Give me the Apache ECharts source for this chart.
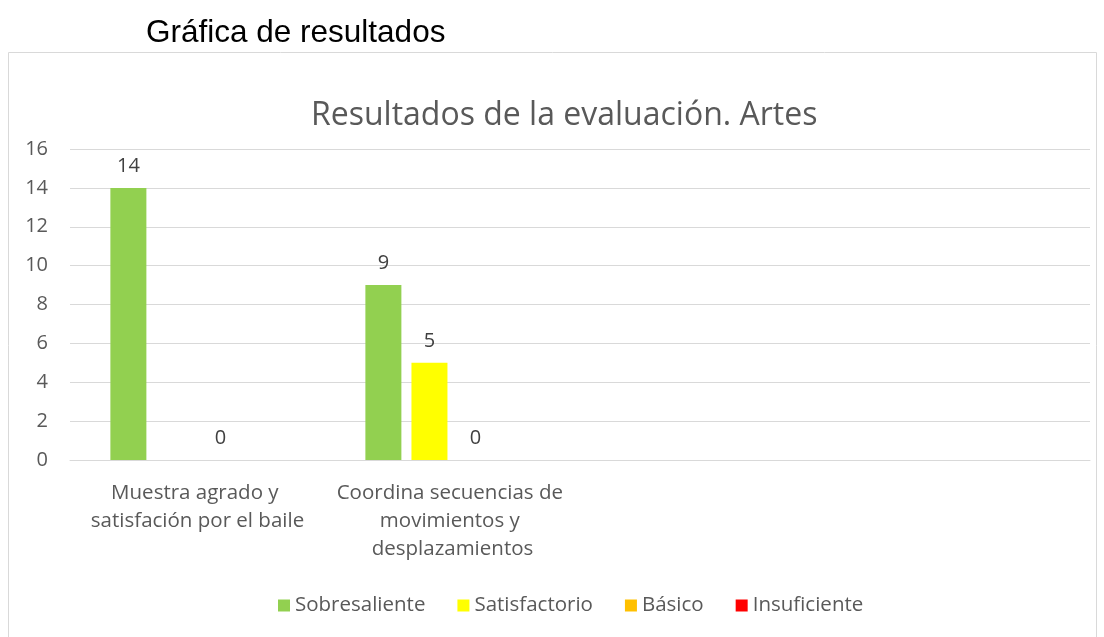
<!DOCTYPE html>
<html><head><meta charset="utf-8">
<script src="https://cdn.jsdelivr.net/npm/echarts@6/dist/echarts.min.js"></script>
<style>html,body{margin:0;padding:0;background:#fff}#c{width:1104px;height:637px}</style>
</head><body><div id="c"></div>
<script>
const categories = ['Muestra agrado y satisfación por el baile', 'Coordina secuencias de movimientos y desplazamientos', '', ''];
const seriesNames = ['Sobresaliente', 'Satisfactorio', 'Básico', 'Insuficiente'];
const sobresaliente = [14, 9, null, null];
const satisfactorio = [null, 5, null, null];
const basico = [0, 0, null, null];
const insuficiente = [null, null, null, null];
const colors = ['#92D050', '#FFFF00', '#FFC000', '#FF0000'];
const yTicks = {min: 0, max: 16, interval: 2};

const values = [sobresaliente, satisfactorio, basico, insuficiente];
const font = '"Open Sans", Lato, sans-serif';
const chart = echarts.init(document.getElementById('c'));
chart.setOption({
  animation: false,
  color: colors,
  title: [
    {text: 'Gráfica de resultados', left: 141, top: 12,
     textStyle: {fontFamily: 'Liberation Sans, Arial', fontSize: 31.5, fontWeight: 'normal', color: '#000'}},
    {text: 'Resultados de la evaluación. Artes', left: 306, top: 95,
     textStyle: {fontFamily: font, fontSize: 32, fontWeight: 'normal', color: '#595959'}}
  ],
  graphic: [{type: 'rect', shape: {x: 8.5, y: 52.5, width: 1088, height: 600},
    style: {fill: 'none', stroke: '#d9d9d9', lineWidth: 1}, z: -1}],
  legend: {top: 590, left: 273, itemWidth: 12, itemHeight: 12, itemGap: 32,
    icon: 'rect', textStyle: {fontFamily: font, fontSize: 20.5, color: '#595959', padding: [0,0,0,0]},
    data: seriesNames},
  grid: {left: 70, right: 14, top: 149, bottom: 177},
  xAxis: {type: 'category', data: categories,
    axisLine: {lineStyle: {color: '#d9d9d9', width: 1}}, axisTick: {show: false},
    axisLabel: {fontFamily: font, fontSize: 20.5, color: '#595959', lineHeight: 28, margin: 19,
      width: 245, overflow: 'break', interval: 0}},
  yAxis: {type: 'value', min: yTicks.min, max: yTicks.max, interval: yTicks.interval,
    axisLine: {show: false}, axisTick: {show: false},
    splitLine: {lineStyle: {color: '#d9d9d9', width: 1}},
    axisLabel: {fontFamily: font, fontSize: 20, color: '#595959', margin: 22}},
  series: seriesNames.map((n, i) => ({
    name: n, type: 'bar', data: values[i], barWidth: 36, barGap: '28%',
    label: {show: true, position: 'top', distance: 12, fontFamily: font, fontSize: 20, color: '#404040'}
  }))
});
</script></body></html>
